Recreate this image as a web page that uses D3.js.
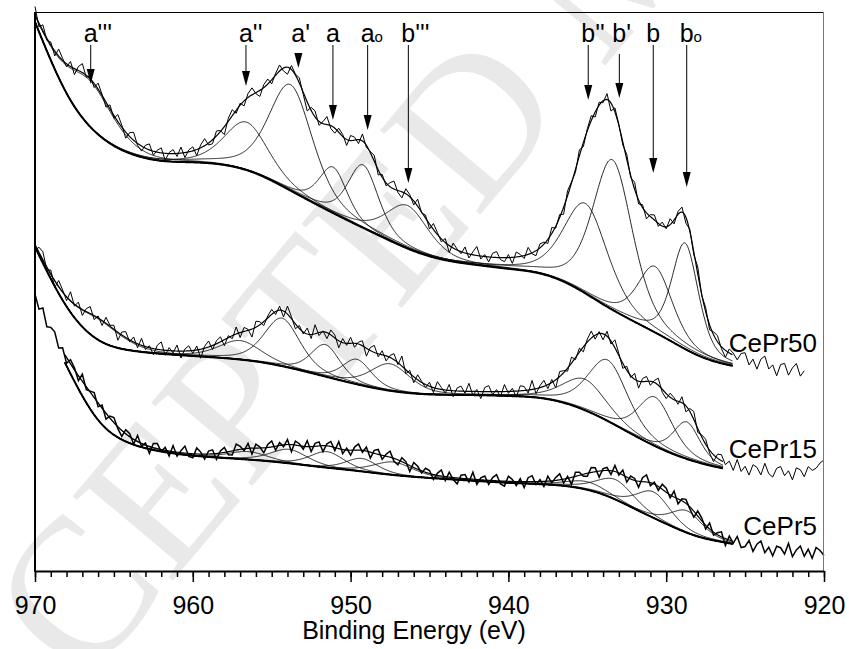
<!DOCTYPE html>
<html>
<head>
<meta charset="utf-8">
<title>Ce 3d XPS</title>
<script src="https://cdn.jsdelivr.net/npm/d3@7/dist/d3.min.js"></script>
<style>
  body { margin: 0; background: #fff; }
  text { font-family: "Liberation Sans", Arial, sans-serif; }
</style>
</head>
<body>
<div id="chart"></div>
<script>
// energy grid (eV)
var eHigh = 970, eLow = 920, rawStep = 0.25;

// Shirley backgrounds, every 2 eV from 970 down to 920 (arbitrary units)
var bg50 = [550, 472, 434, 417, 410, 410, 408, 400, 383, 366, 350, 335, 320, 311, 307, 303, 300, 288, 267, 250, 234, 215, 206, 202, 197, 194];
var bg15 = [325, 260, 228, 221, 218, 216, 214, 211, 205, 197, 189, 182, 178, 177, 177, 176, 175, 168, 154, 136, 120, 109, 102, 98, 97, 99];
var bg5  = [272, 205, 145, 127, 120, 116, 114, 112, 109, 105, 102, 98, 95, 93, 91, 89, 88, 86, 79, 63, 48, 34, 29, 22, 19, 19];

// fitted components: centre (eV), height, fwhm (eV)
var peakNames = ["a'''", "a''", "a'", "a", "ao", "b'''", "b''", "b'", "b", "bo"];
var centres50 = [966.5, 956.6, 953.8, 951.1, 949.2, 946.4, 935.1, 933.4, 930.7, 928.8];
var heights50 = [46, 48, 106, 46, 63, 43, 90, 150, 66, 106];
var widths50  = [3.6, 3.3, 3.3, 2.1, 2.3, 3.2, 3.3, 3.0, 2.6, 2.0];
var centres15 = [966.0, 957.0, 954.35, 951.6, 949.6, 947.5, 935.15, 933.7, 930.7, 928.7];
var heights15 = [21, 19, 48, 32, 25, 27, 31, 61, 49, 37];
var widths15  = [3.6, 3.2, 2.7, 2.2, 2.2, 3.0, 3.3, 3.0, 2.6, 2.0];
var centres5  = [966.2, 956.5, 953.9, 951.5, 949.3, 947.3, 935.0, 933.2, 930.8, 928.7];
var heights5  = [17, 8, 14, 16, 13, 13, 8, 20, 26, 22];
var widths5   = [3.5, 3.0, 2.8, 2.6, 2.4, 3.0, 3.0, 2.8, 2.6, 2.4];
var lorentzMix = 0.45;

// fit windows (eV)
var fit50 = [925.8, 970], fit15 = [926.4, 970], fit5 = [925.8, 968.1];

// measured counts minus fit, 0.25 eV steps from 970 eV
var res50 = [8, -4, 6, -2, 3, -5, 7, 2, -3, 5, -6, 4, 9, -2, 3, -4, 6, 1, -5, 4,
  -3, 7, 2, -6, 4, 8, -2, -5, 3, 6, -4, 2, 5, -7, 1, 4, -3, 6, -5, 2,
  4, -6, 3, 7, -2, -4, 5, 1, -8, 3, 6, -3, 2, -5, 4, 7, -1, -6, 3, 5,
  -4, 2, 6, -3, -7, 4, 1, 5, -2, -9, 3, 6, -4, 2, 8, -3, -5, 4, 2, -6,
  5, 3, -4, 7, -2, 1, 6, -5, 3, -3, 4, 8, -2, -6, 5, 2, -4, 7, -1, 3,
  -5, 6, 2, -3, 4, -7, 5, 1, -2, 6, -4, 3, 9, -3, 2, -5, 4, 6, -2, -4,
  3, -6, 5, 2, -3, 7, -1, -5, 4, 2, -4, 6, -2, 3, -7, 5, 1, -3, 6, -4,
  2, 5, -5, 3, -2, 6, -8, 4, 1, -3, 5, -2, 7, -4, 3, -6, 2, 5, -3, 4,
  -2, 6, -4, 3, 5, -6, 2, -3, 7, -1, 4, -5, 3, 6, -2, -7, 4, 2, -3, 5,
  7, -4, 3, -6, 5, 9, -3, 2, -8, 4, 6, -5, 3, 8, -4, 2];
var res15 = [-6, 5, 8, -3, 4, -7, 6, 2, -4, 9, -2, 5, -6, 3, 7, -4, 2, -5, 6, 1,
  4, -8, 3, 6, -2, 5, -4, 7, -3, 2, -6, 4, 8, -5, 3, -2, 6, -7, 2, 5,
  -3, 4, -9, 2, 6, -4, 3, 5, -6, 2, -3, 7, -5, 4, 1, -8, 6, 3, -4, 2,
  5, -3, 4, -6, 8, 2, -5, 3, -2, 6, -4, 9, -3, 1, -6, 5, 3, -7, 4, -2,
  6, -4, 2, 5, -8, 3, 7, -3, 4, -5, 2, 6, -2, 10, -4, 3, -6, 5, 1, -3,
  4, -5, 7, 2, -3, 6, -6, 3, 5, -2, 8, -4, 2, -7, 4, 6, -3, 2, -5, 7,
  -2, 3, -6, 5, 4, -3, 9, -5, 2, 6, -4, 3, -8, 5, 2, -3, 6, -2, 4, -5,
  3, 7, -4, 2, -6, 5, -3, 8, 2, -5, 4, -2, 6, -7, 3, 5, -4, 2, 7, -3,
  -5, 4, 2, -3, 6, -6, 3, 8, -4, 2, 5, -3, -7, 4, 6, -2, 3, -5, 7, -4,
  2, -6, 5, 3, -4, 8, -2, -5, 4, 6, -3, 2, -7, 5, 3, -4, 6, 2, 4, 9,
  12];
var res5 = [4, -3, 6, -5, 2, 5, -4, 3, -6, 4, 2, -5, 7, -3, 1, 5, -4, 3, -6, 2,
  5, -2, -6, 4, 3, -5, 6, -3, 2, -7, 4, 5, -2, 3, -5, 6, -4, 2, 7, -3,
  -4, 6, 2, -5, 3, 4, -6, 2, 5, -3, -4, 6, 3, -2, 5, -6, 4, 1, -5, 3,
  6, -4, 3, -2, 5, -7, 4, 2, -3, 6, -5, 3, 4, -6, 2, 5, -3, 7, -4, 2,
  -5, 3, 6, -2, 4, -6, 3, 5, -4, 2, 6, -3, -5, 4, 2, -6, 5, 3, -2, 4,
  3, -5, 2, 6, -4, 5, -2, -6, 3, 4, -3, 7, -5, 2, 4, -4, 3, 6, -3, -5,
  5, 2, -4, 3, -6, 4, 6, -3, 2, -5, 5, -2, 3, 6, -4, 2, -7, 4, 3, -2,
  -3, 5, 4, -6, 2, 3, -4, 6, -2, 5, -5, 3, 2, -6, 4, 7, -3, 2, -4, 5,
  4, -3, 6, -5, 2, 4, -2, -6, 5, 3, -4, 6, -3, 2, 5, -7, 4, -2, 6, -4,
  -2, 5, -5, 3, 7, -4, 2, -6, 4, 3, -3, 8, -5, 2, 6, -4, 3, -6, 5, 2,
  -3];

// peak markers: arrow energy (eV), arrow top and tip (same units as spectra)
var arrowEnergy = [966.47, 956.63, 953.31, 951.12, 948.92, 946.34, 934.94, 932.97, 930.82, 928.70];
var arrowTop = [527, 527, 518, 527, 527, 527, 527, 518, 527, 527];
var arrowTip = [488, 486, 504, 452, 442, 389, 472, 474, 399, 385];

var sampleNames = ["CePr50", "CePr15", "CePr5"];
var sampleLabelLevel = [220, 114, 37];

var width = 849, height = 649;
var x = d3.scaleLinear().domain([eHigh, eLow]).range([35, 824]);
var y = d3.scaleLinear().domain([0, 560]).range([572, 12]);

var svg = d3.select('#chart').append('svg')
    .attr('width', width)
    .attr('height', height);

// faint watermark of the source page
svg.append('text')
    .attr('transform', 'translate(-95,900) rotate(-50)')
    .style('font-family', '"Liberation Serif", serif')
    .attr('font-size', 200)
    .attr('fill', '#e9e9e9')
    .text('ACCEPTED MANUSCRIPT');

function pv(e, c, h, w) {
    var d = 2 * (e - c) / w;
    return h * ((1 - lorentzMix) * Math.exp(-Math.LN2 * d * d) + lorentzMix / (1 + d * d));
}

function makeSpectrum(bgKnots, centres, heights, widths, fit, res) {
    var bgi = d3.interpolateBasis(bgKnots);
    var bgAt = function(e) { return bgi((eHigh - e) / (eHigh - eLow)); };
    var comps = centres.map(function(c, i) { return { c: c, h: heights[i], w: widths[i] }; });
    var modelAt = function(e) {
        return bgAt(e) + d3.sum(comps, function(p) { return pv(e, p.c, p.h, p.w); });
    };
    var grid = d3.range(fit[1], fit[0] - 1e-6, -0.05);
    var raw = res.map(function(r, i) {
        var e = eHigh - i * rawStep;
        return [e, modelAt(e) + r];
    });
    return {
        bg: grid.map(function(e) { return [e, bgAt(e)]; }),
        env: grid.map(function(e) { return [e, modelAt(e)]; }),
        comps: comps.map(function(p) {
            return grid.map(function(e) { return [e, bgAt(e) + pv(e, p.c, p.h, p.w)]; });
        }),
        raw: raw
    };
}

var spectra = [
    makeSpectrum(bg50, centres50, heights50, widths50, fit50, res50),
    makeSpectrum(bg15, centres15, heights15, widths15, fit15, res15),
    makeSpectrum(bg5, centres5, heights5, widths5, fit5, res5)
];

var line = d3.line()
    .x(function(d) { return x(d[0]); })
    .y(function(d) { return y(d[1]); });

var plot = svg.append('g');

spectra.forEach(function(s, k) {
    var g = plot.append('g');
    g.append('path').datum(s.raw)
        .attr('d', line).attr('fill', 'none')
        .attr('stroke', '#000').attr('stroke-width', k == 2 ? 1.5 : 1);
    g.selectAll('path.comp').data(s.comps).enter().append('path')
        .attr('class', 'comp')
        .attr('d', line).attr('fill', 'none')
        .attr('stroke', '#111').attr('stroke-width', 0.9);
    g.append('path').datum(s.env)
        .attr('d', line).attr('fill', 'none')
        .attr('stroke', '#000').attr('stroke-width', 1.2);
    g.append('path').datum(s.bg)
        .attr('d', line).attr('fill', 'none')
        .attr('stroke', '#000').attr('stroke-width', 2);
});

// sample labels
svg.selectAll('text.sample').data(sampleNames).enter().append('text')
    .attr('class', 'sample')
    .attr('x', 817)
    .attr('y', function(d, i) { return y(sampleLabelLevel[i]); })
    .attr('text-anchor', 'end')
    .attr('font-size', 26)
    .text(function(d) { return d; });

// peak markers
var marks = svg.selectAll('g.mark').data(peakNames).enter().append('g').attr('class', 'mark');
marks.append('line')
    .attr('x1', function(d, i) { return x(arrowEnergy[i]); })
    .attr('x2', function(d, i) { return x(arrowEnergy[i]); })
    .attr('y1', function(d, i) { return y(arrowTop[i]); })
    .attr('y2', function(d, i) { return y(arrowTip[i]) - 10; })
    .attr('stroke', '#000').attr('stroke-width', 1);
marks.append('path')
    .attr('d', function(d, i) {
        var ax = x(arrowEnergy[i]), ay = y(arrowTip[i]);
        return 'M' + ax + ',' + ay + 'L' + (ax - 4) + ',' + (ay - 15) + 'L' + (ax + 4) + ',' + (ay - 15) + 'Z';
    })
    .attr('fill', '#000');
var labels = marks.append('text')
    .attr('x', function(d, i) { return x(arrowEnergy[i]) - 7; })
    .attr('y', 42)
    .attr('font-size', 25);
labels.append('tspan').text(function(d) { return d.slice(-1) == 'o' ? d.slice(0, -1) : d; });
labels.filter(function(d) { return d.slice(-1) == 'o'; })
    .append('tspan').attr('font-size', 15).text('o');

// frame
svg.append('line').attr('x1', 35).attr('x2', 824).attr('y1', 12.5).attr('y2', 12.5)
    .attr('stroke', '#000').attr('stroke-width', 1);
svg.append('line').attr('x1', 823.5).attr('x2', 823.5).attr('y1', 12).attr('y2', 572)
    .attr('stroke', '#777').attr('stroke-width', 1);
svg.append('line').attr('x1', 35).attr('x2', 35).attr('y1', 12).attr('y2', 572)
    .attr('stroke', '#000').attr('stroke-width', 2);

// x axis: minor ticks every 1 eV, labelled every 10 eV
var minorAxis = d3.axisBottom(x).tickValues(d3.range(eLow, eHigh + 1, 1))
    .tickSize(6).tickSizeOuter(0).tickFormat('');
var majorAxis = d3.axisBottom(x).tickValues(d3.range(eLow, eHigh + 1, 10))
    .tickSize(11).tickSizeOuter(0).tickPadding(14).tickFormat(d3.format('d'));
svg.append('g').attr('transform', 'translate(0,571)').call(minorAxis)
    .call(function(g) { g.select('.domain').remove(); })
    .selectAll('line').attr('stroke-width', 1.5);
var ax = svg.append('g').attr('transform', 'translate(0,571)').call(majorAxis);
ax.select('.domain').attr('stroke-width', 2);
ax.selectAll('line').attr('stroke-width', 1.5);
ax.selectAll('text').attr('font-size', 25).style('font-family', '"Liberation Sans", Arial, sans-serif');

svg.append('text')
    .attr('x', 414).attr('y', 639)
    .attr('text-anchor', 'middle')
    .attr('font-size', 25)
    .text('Binding Energy (eV)');
</script>
</body>
</html>
